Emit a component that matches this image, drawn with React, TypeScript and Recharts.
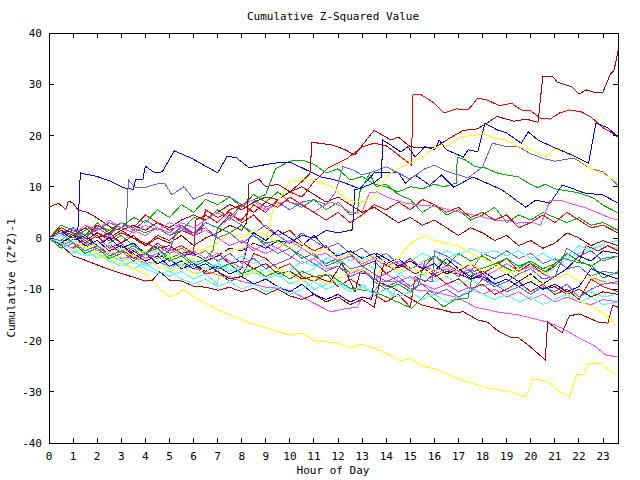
import { LineChart, Line, XAxis, YAxis, ReferenceArea } from "recharts";

// cumulative (z*z)-1 per series, as [hour, value] pairs
const red1 = [[0,0],[0.5,1.5],[1,0.5],[1.5,2.5],[2,1],[2.5,-0.5],[3,1],[3.5,0],[4,-1.5],[4.5,0.5],[5,-0.5],[5.5,1.5],[6,0.5],[6.5,3],[7,2],[7.5,4.5],[8,3.5],[8.5,6.5],[9,5],[9.5,7.5],[10,9],[10.5,8],[11,11],[11.6,13.7],[12.4,15.6],[13,17.8],[13.5,18.5],[14,18],[14.5,16.2],[15.05,14.2],[15.1,27.9],[15.4,28.1],[16,26.3],[16.4,24.4],[16.9,25.2],[17.4,25],[17.8,27.3],[18.2,26.9],[18.7,25.8],[19.2,26.3],[19.6,25],[20,24.8],[20.4,23.4],[20.8,23.2],[21.2,24.4],[21.6,25],[22.1,24.6],[22.5,23.6],[23,21.5],[23.3,20.7],[23.62,19.7]];
const red2 = [[0,0],[0.5,-1.5],[1,1],[1.5,0],[2,2.5],[2.5,1],[3,3],[3.5,2],[4,4.5],[4.5,3],[5,1.5],[5.5,2.5],[6,0.5],[6.3,1],[6.5,5.5],[7,4],[7.5,5],[8,3],[8.5,4.5],[9,2],[9.5,0.5],[10,1.5],[10.5,-1],[11,-2.5],[11.5,-1.5],[12,-4],[12.5,-3],[13,-5.5],[13.5,-4.5],[14,-7],[14.5,-5.5],[15,-4],[15.5,-6],[16,-3.5],[16.5,-5],[17,-6.5],[17.5,-5],[18,-7],[18.5,-5.5],[19,-4],[19.5,-6.5],[20,-5],[20.5,-7],[21,-5.5],[21.5,-3],[22,-4.5],[22.3,-1.5],[22.8,-2.5],[23.2,-1.5],[23.62,-2.5]];
const red3 = [[0,0],[0.5,2],[1,1],[1.5,-1],[2,0.5],[2.5,-2],[3,-1],[3.5,-3.5],[4,-2.5],[4.5,-5],[5,-4],[5.5,-6],[6,-5],[6.5,-7],[7,-6.5],[7.5,-8.5],[8,-7.5],[8.5,-3],[9,-4],[9.5,-6],[10,-5],[10.5,-7.5],[11,-8.5],[11.5,-7],[12,-9.5],[12.5,-8],[13,-9.5],[13.5,-11],[14,-12.5],[14.5,-11],[15,-13.5],[15.2,-7.5],[15.6,-8.5],[16,-7],[16.5,-9],[17,-8],[17.5,-10],[18,-9],[18.5,-11],[19,-10],[19.5,-8.5],[20,-10.5],[20.5,-9],[21,-11],[21.5,-10],[22,-12],[22.5,-8],[23,-9.5],[23.62,-10.5]];
const red4 = [[0,0],[0.5,-1],[1,-2],[1.5,0],[2,-1.5],[2.5,-3],[3,-2],[3.5,-4],[4,-3],[4.5,-1],[5,-2.5],[5.5,-1.5],[6,-3],[6.1,3.5],[6.5,4.5],[7,3],[7.5,5.5],[8,6.5],[8.5,5],[9,7],[9.5,6],[10,8],[10.5,6.5],[11,5],[11.5,3.5],[12,5],[12.5,3],[13,4.5],[13.5,6.5],[14,5.5],[14.5,7],[15,5.5],[15.5,7.5],[16,6.5],[16.5,5],[17,6],[17.5,4],[18,5],[18.5,3.5],[19,4.5],[19.5,2],[20,3],[20.5,4.5],[21,3],[21.5,5],[22,3.5],[22.5,2],[23,2.5],[23.62,1]];

const green1 = [[0,0],[0.5,1],[1,0],[1.5,1.5],[2,2.5],[2.5,1.5],[3,3],[3.5,2],[4,1],[4.5,2],[5,0.5],[5.5,1.5],[6,4],[6.5,3.5],[7,5.5],[7.5,4],[8,6.5],[8.5,7.5],[9,8.5],[9.4,13.5],[10,15],[10.5,15.2],[11,14.4],[11.5,12.7],[12,13.5],[12.5,11.3],[13,12],[13.5,10.5],[14,10],[14.5,9],[15,10],[15.5,9.6],[16,10.5],[16.4,10],[16.9,10.7],[16.95,15.8],[17.3,15.2],[17.7,13.9],[18.1,13.7],[18.6,12.7],[19,12.3],[19.5,11.9],[19.9,10.7],[20.3,9.8],[20.6,10.5],[21,9.6],[21.5,9.2],[22,8.8],[22.6,7.8],[23,6.4],[23.62,4.9]];
const green2 = [[0,0],[0.5,2.5],[1,1.5],[1.5,0.5],[2,3],[2.5,1],[3,2],[3.5,4],[4,3],[4.5,5.5],[5,4],[5.5,6.5],[6,5],[6.5,7.5],[7,6.5],[7.5,8],[8,6],[8.5,8.5],[9,7],[9.5,9],[10,7],[10.5,6],[11,7.5],[11.5,5.5],[12,7],[12.5,4.5],[12.8,5],[12.9,9],[13.3,12.5],[13.6,10],[14,10.5],[14.5,8.5],[15,7.5],[15.5,5],[16,6.5],[16.5,4.5],[17,5.5],[17.5,3.5],[18,4.5],[18.5,6],[19,3],[19.5,4.5],[20,3.5],[20.5,5],[21,4],[21.5,3],[22,4],[22.5,2.5],[23,3],[23.62,1.5]];
const green3 = [[0,0],[0.5,-1],[1,1],[1.5,-0.5],[2,-2],[2.5,-1],[3,0.5],[3.5,-1.5],[4,-3],[4.5,-2],[5,-4],[5.5,-3],[6,-5],[6.5,-4],[6.8,-2.5],[7,2],[7.5,1],[8,2.5],[8.5,0.5],[9,-1],[9.5,-0.5],[10,-2],[10.5,-4],[11,-3],[11.5,-5.5],[12,-4.5],[12.5,-7],[13,-6],[13.5,-8.5],[14,-10],[14.5,-9],[15,-10.5],[15.3,-9.5],[15.6,-4.5],[16,-3.5],[16.5,-5.5],[17,-3],[17.5,-4.5],[18,-3.5],[18.5,-5],[19,-4],[19.5,-5.5],[20,-4.5],[20.5,-6],[21,-5],[21.5,-3],[22,-4.5],[22.5,-5.5],[23,-4],[23.62,-3.5]];
const green4 = [[0,0],[0.5,-2],[1,-1],[1.5,-3],[2,-2],[2.5,-4],[3,-3],[3.5,-1.5],[4,-3],[4.5,-2],[5,-4.5],[5.5,-3.5],[6,-5.5],[6.5,-4.5],[7,-6],[7.5,-5],[8,-7],[8.5,-6],[9,-7.5],[9.5,-6.5],[10,-8],[10.5,-6.5],[11,-7.5],[11.66,-7.2],[12.5,-9.8],[13.5,-10.5],[14,-11.5],[15.05,-13.7],[15.7,-10.7],[16.4,-13.5],[16.8,-12.1],[17.4,-11.7],[17.6,-6.6],[18,-5.9],[18.6,-4.9],[19.3,-6.6],[19.9,-4.7],[20.6,-6.6],[21.3,-3.9],[21.9,-4.7],[22.5,-5.3],[23,-7.8],[23.62,-6.6]];

const blue1 = [[0,0],[0.5,1],[1.2,1.6],[1.3,12.7],[2,12],[2.6,11],[3,10],[3.2,9.7],[3.5,9.5],[3.6,11.5],[3.9,11.5],[4,14],[4.4,12.7],[4.7,12.9],[5.2,17],[5.9,15.6],[7,12.7],[7.4,16],[7.8,15.6],[8.3,13.7],[9.3,14.6],[10,14.8],[10.5,13.7],[11.3,11.9],[11.9,11.3],[12.3,10.7],[12.9,9.6],[13.5,12.7],[14,12.7],[14.5,12.7],[14.8,10.7],[15.2,12.3],[15.8,10.3],[16.3,12.3],[16.8,9.9],[17.6,11.9],[18.8,9.4],[19.8,6],[20.2,7.4],[20.8,6.8],[21.3,10.3],[21.6,9.9],[22.2,8.8],[23,8.4],[23.62,6.8]];
const blue2 = [[0,0],[0.5,-1],[1,0.5],[1.5,-1.5],[2,-2],[2.5,-1],[3,-3],[3.5,-2.5],[4,-4],[4.5,-3],[5,-4.5],[5.5,-3.5],[6,-3],[6.5,-4.5],[7,-3.5],[7.5,-2],[8,-2.5],[8.5,-1],[9,-2],[9.5,-0.5],[10,-1],[10.5,0.5],[11,0],[11.5,1.5],[12,1],[12.6,1.6],[12.7,9.4],[13,9.8],[13.5,10.8],[13.8,11.9],[13.85,19.1],[14.2,18.1],[14.6,16.8],[14.9,17.8],[15.2,15.8],[15.6,17.8],[16,17.2],[16.2,19.1],[16.5,17.2],[17.2,15.8],[17.4,17.2],[17.8,16.8],[18.1,22.4],[18.6,21.1],[19,20.5],[19.6,18.5],[19.9,20.7],[20.3,19.1],[21,17.6],[21.7,16.2],[22.4,14.6],[22.7,22.4],[23.2,21.5],[23.62,19.7]];
const blue3 = [[0,0],[0.5,1.5],[1,-0.5],[1.5,0.5],[2,-1.5],[2.5,0],[3,-2],[3.5,-1],[4,-3],[4.5,-5],[5,-4],[5.5,-6],[6,-5],[6.5,-6.5],[7,-5.5],[7.5,-7],[8,-6],[8.3,0],[8.5,1],[9,-0.5],[9.5,1.5],[10,0],[10.5,-1.5],[11,0.5],[11.5,-2],[12,-3.5],[12.5,-2.5],[13,-4],[13.5,-3],[14,-5],[14.5,-4],[15,-6],[15.5,-5],[16,-6.5],[16.5,-4],[17,-6],[17.5,-7.5],[18,-6.5],[18.5,-8],[19,-7],[19.5,-8.5],[20,-7],[20.5,-9],[21,-7.5],[21.5,-6],[22,-3.5],[22.5,-4.5],[23,-2.5],[23.62,-3]];
const blue4 = [[0,0],[0.5,-1],[1,0.5],[1.5,-1.5],[2,-0.5],[2.5,-2.5],[3,-1.5],[3.5,-3],[4,-4.5],[4.5,-3.5],[5,-5.5],[5.5,-4.5],[6,-6],[6.5,-5],[7,-6.5],[7.5,-8],[8,-7.5],[8.5,-9],[9,-8],[9.5,-9.5],[10,-10.5],[10.5,-9],[11,-11],[11.5,-12],[12,-11],[12.5,-12.5],[13,-11.5],[13.4,-12],[13.6,-3],[14,-4],[14.5,-5.5],[15,-4.5],[15.5,-6],[16,-5],[16.5,-7],[17,-6],[17.5,-8],[18,-7.5],[18.5,-9],[19,-8],[19.5,-9.5],[20,-8.5],[20.5,-10],[21,-9],[21.5,-10.5],[22,-9.5],[22.5,-6],[23,-7],[23.62,-8]];

const slate1 = [[0,0],[0.5,1],[1,2],[1.5,0.5],[2,1.5],[2.5,3],[3,2],[3.2,2.5],[3.3,11.3],[3.6,9.8],[4,9.8],[4.4,10.5],[4.8,10.7],[5.1,8.4],[5.6,10],[6,7.6],[6.6,8.8],[7,8.4],[7.5,8],[8,6.5],[8.5,7.5],[9,6],[9.5,7],[10,5.5],[10.5,7],[11,7.5],[11.5,6.5],[11.9,9],[12.2,13.9],[12.6,13.3],[13,12.3],[13.5,13],[14,13.9],[14.5,12.7],[15,11.5],[15.6,13.5],[16,14.2],[16.5,13],[17,12.3],[17.4,11.7],[18,13.9],[18.4,18.5],[19,17.8],[19.5,17.8],[20,16.4],[20.6,15.4],[21,15],[21.8,15.6],[22.5,13.5],[23,12.9],[23.62,10.3]];
const slate2 = [[0,0],[0.5,-0.5],[1,1.5],[1.5,0],[2,2],[2.5,0.5],[3,3],[3.5,1.5],[4,3.5],[4.5,2],[5,0.5],[5.5,2],[6,1],[6.5,3],[7,2],[7.5,4],[8,2.5],[8.5,1],[9,2.5],[9.5,0.5],[10,-1],[10.5,1],[11,-0.5],[11.5,-2],[12,-1],[12.5,-3],[13,-2],[13.5,-4],[14,-3],[14.5,-5],[15,-6],[15.5,-5],[16,-7],[16.5,-6],[17,-7.5],[17.5,-6.5],[18,-3],[18.5,-4],[19,-2.5],[19.5,-4],[20,-3],[20.5,-5],[21,-4],[21.5,-6],[22,-5.5],[22.5,-7.5],[23,-6.5],[23.62,-7]];
const slate3 = [[0,0],[0.5,-1.5],[1,-0.5],[1.5,-2],[2,-1],[2.5,-3],[3,-2],[3.5,-4],[4,-3],[4.5,-1.5],[5,-3],[5.5,-2],[6,-3.5],[6.5,-2.5],[7,-4.5],[7.5,-3],[8,-5],[8.5,-4],[9,-6],[9.5,-5],[10,-4],[10.5,-2],[11,-3.5],[11.5,-5],[12,-4],[12.5,-6],[13,-5.5],[13.5,-7],[14,-8.5],[14.5,-7.5],[15,-9.5],[15.3,-8],[15.9,-8.5],[16,-2.5],[16.5,-3.5],[17,-5],[17.5,-6.5],[18,-8],[18.5,-9.5],[19,-8.5],[19.5,-7],[20,-6],[20.5,-8],[21,-7.5],[21.5,-2],[22,-3.5],[22.5,-2.5],[23,-4.5],[23.62,-3.5]];
const slate4 = [[0,0],[0.5,1],[1,-1],[1.5,-2.5],[2,-1.5],[2.5,-3.5],[3,-2.5],[3.5,-4.5],[4,-3],[4.5,-4],[5,-2.5],[5.3,1.5],[5.5,2.5],[6,1],[6.5,2],[7,0],[7.5,1],[8,-1],[8.5,0.5],[9,-1.5],[9.5,-3],[10,-2],[10.5,-3.5],[11,-5],[11.5,-6.5],[12,-5.5],[12.5,-7.5],[13,-6.5],[13.5,-8],[14,-9.5],[14.5,-8.5],[15,-10],[15.5,-9],[16,-11],[16.5,-10],[17,-11.5],[17.5,-10.5],[18,-8],[18.5,-9],[19,-10.5],[19.5,-9.5],[20,-11],[20.5,-9.5],[21,-10.5],[21.5,-9],[22,-11.5],[22.5,-10],[23,-9],[23.62,-8.5]];

const magenta1 = [[0,0],[0.5,-1],[1,-2],[1.5,-1.5],[2,-3],[2.5,-2.5],[3,-4],[3.5,-3.5],[4,-5],[4.5,-4.5],[5,-5.5],[5.5,-5],[6,-6],[6.5,-6.5],[7,-7.2],[7.5,-7.5],[8,-8.5],[8.5,-9],[9,-9.6],[9.5,-9.8],[10,-10.2],[10.7,-12],[11.7,-14.4],[12.3,-13.8],[12.8,-13.5],[13,-11.5],[13.3,-11.8],[13.8,-8.4],[14.6,-8.4],[15,-10],[16,-10.5],[17,-11.7],[17.7,-13.5],[18.7,-14.5],[19.5,-15],[20.7,-16.4],[21.3,-17.6],[22,-19.5],[22.6,-20.9],[23.1,-22.8],[23.62,-23.2]];
const magenta2 = [[0,0],[0.5,-1],[1,1],[1.5,0],[2,-1.5],[2.5,0.5],[3,-1],[3.5,1.5],[4,0.5],[4.5,2],[5,1],[5.5,3],[6,2],[6.5,3.5],[7,5],[7.5,3.5],[8,6],[8.4,7.4],[9,5.5],[9.3,6.2],[9.8,7.2],[10.4,6.6],[11,5],[11.3,6],[11.7,7],[12,6.5],[12.5,5],[13,5.1],[13.3,8.8],[13.6,9],[14.1,7.8],[14.8,6.8],[15.4,6.4],[16,6.2],[16.6,5.5],[17.6,4.5],[18.2,3.9],[18.5,3.5],[19,3.5],[19.4,2.9],[20,3.1],[20.4,2.5],[20.6,4.9],[20.8,7.4],[21.2,7.4],[21.6,6.8],[22.2,6],[22.8,4.9],[23.3,3.9],[23.62,3.5]];
const magenta3 = [[0,0],[0.5,1.5],[1,0.5],[1.5,2.5],[2,1.5],[2.5,3.5],[3,2],[3.5,1],[4,2.5],[4.5,1.5],[5,3],[5.5,2],[6,0.5],[6.5,1.5],[7,0],[7.5,-1.5],[8,-0.5],[8.5,-2],[9,-3],[9.5,-2],[10,-3.5],[10.5,-5],[11,-4],[11.5,-6],[12,-5.5],[12.5,-7],[13,-6],[13.5,-8],[14,-7],[14.5,-8.5],[15,-7.5],[15.5,-9],[16,-10],[16.5,-9],[17,-10.5],[17.5,-9.5],[18,-11],[18.5,-10],[19,-11.5],[19.5,-10.5],[20,-12],[20.5,-11],[21,-12.5],[21.5,-11.5],[22,-12.5],[22.5,-13],[23,-12],[23.62,-12.5]];
const magenta4 = [[0,0],[0.5,-1],[1,-2],[1.5,-1],[2,-2.5],[2.5,-1.5],[3,-3],[3.5,-2],[4,-4],[4.5,-3],[5,-2],[5.5,-3.5],[6,-2.5],[6.5,-4],[7,-3],[7.5,-4.5],[8,-6],[8.2,-1.5],[8.5,-2.5],[9,-1],[9.5,-2],[10,-0.5],[10.5,-2],[11,-3.5],[11.5,-3],[12,-4.5],[12.5,-3.5],[13,-5],[13.5,-4],[14,-5.5],[14.5,-4.5],[15,-6],[15.5,-5],[16,-6.5],[16.5,-5.5],[17,-7],[17.5,-6],[18,-7.5],[18.5,-6.5],[19,-5],[19.5,-6.5],[20,-5.5],[20.5,-7],[21,-8],[21.5,-7],[22,-8.5],[22.5,-7.5],[23,-8.5],[23.62,-9]];

const cyan1 = [[0,0],[0.5,-1.5],[1,-3],[1.5,-2],[2,-4],[2.5,-3],[3,-4.5],[3.5,-6],[4,-5],[4.5,-6.5],[5,-7.5],[5.5,-6.5],[6,-8],[6.5,-7],[7,-9],[7.1,-4],[7.5,-5],[8,-3.5],[8.5,-5],[9,-4],[9.5,-6],[10,-5],[10.5,-7],[11,-6],[11.5,-4],[12,-5],[12.5,-3.5],[13,-4.5],[13.5,-6],[14,-5],[14.5,-7],[15,-6],[15.5,-4.5],[16,-5.5],[16.5,-4],[17,-3],[17.5,-4.5],[18,-3.5],[18.5,-5],[19,-4],[19.5,-6],[20,-5],[20.5,-7],[21,-6],[21.5,-4],[22,-3],[22.5,-2],[23,-1.5],[23.62,-2]];
const cyan2 = [[0,0],[0.5,-1],[1,-0.5],[1.5,-2.5],[2,-1.5],[2.5,-3.5],[3,-4.5],[3.5,-3.5],[4,-5.5],[4.5,-4.5],[5,-6],[5.5,-5],[6,-7],[6.5,-6.5],[7,-5],[7.5,-6],[8,-7.5],[8.5,-6.5],[9,-8],[9.5,-7],[10,-9],[10.5,-8],[11,-10],[11.5,-9],[12,-8.5],[12.5,-10],[13,-9],[13.5,-11],[14,-10],[14.3,-11.5],[14.5,-7],[15,-8],[15.5,-7],[16,-8.5],[16.5,-7.5],[17,-9],[17.5,-8],[18,-9.5],[18.5,-8.5],[19,-10],[19.5,-9],[20,-10.5],[20.5,-9.5],[21,-11],[21.5,-10],[22,-11.5],[22.5,-10.5],[23,-11.5],[23.62,-11]];
const cyan3 = [[0,0],[0.5,0.5],[1,-1],[1.5,0],[2,-2],[2.5,-1],[3,-2.5],[3.5,-1.5],[4,-3.5],[4.5,-2.5],[5,-4],[5.5,-5.5],[6,-4.5],[6.5,-6],[7,-5],[7.5,-6.5],[8,-5.5],[8.5,-7],[9,-6],[9.5,-7.5],[10,-6.5],[10.5,-4.5],[11,-5.5],[11.5,-4],[12,-3],[12.5,-4.5],[13,-3.5],[13.5,-5],[14,-4],[14.5,-5.5],[15,-4.5],[15.5,-3],[16,-4],[16.5,-2.5],[17,-3.5],[17.5,-2],[18,-3],[18.5,-2.5],[19,-3.5],[19.5,-2.5],[20,-4],[20.5,-3],[21,-4.5],[21.5,-3.5],[22,-1.5],[22.5,-2.5],[23,-1],[23.62,-0.5]];
const cyan4 = [[0,0],[0.5,-1],[1,-2.5],[1.5,-3.5],[2,-3],[2.5,-4.5],[3,-5.5],[3.5,-4.5],[4,-6],[4.5,-7],[5,-6.5],[5.5,-8],[6,-9],[6.5,-8],[7,-9.5],[7.5,-8.5],[8,-10],[8.5,-9],[9,-10.5],[9.5,-9.5],[10,-11],[10.5,-10],[11,-8.5],[11.5,-10],[12,-9],[12.5,-10.5],[13,-9.5],[13.5,-11],[14,-10],[14.5,-11.5],[15,-10.5],[15.5,-12],[16,-11],[16.5,-12.5],[17,-11.5],[17.5,-10],[18,-11],[18.5,-12],[19,-11],[19.5,-12.5],[20,-11.5],[20.5,-13],[21,-12],[21.5,-11],[22,-12.5],[22.5,-11.5],[23,-13],[23.62,-12.5]];

const yellow1 = [[0,0],[1,-2],[2,-3.5],[3,-5],[4,-7],[4.5,-9.5],[5,-11.5],[5.3,-11],[5.6,-10],[6,-11.5],[7,-14],[8,-16],[9,-17.5],[10,-19],[10.5,-18.5],[11,-20],[12,-20.5],[12.5,-21.5],[13,-20.7],[13.5,-21.5],[14,-22.5],[14.6,-24],[15,-23.5],[15.5,-25],[16,-25.5],[16.5,-26.5],[17,-27.5],[18,-29],[18.5,-29.5],[19,-29.8],[19.8,-31],[20.1,-27.5],[20.7,-28],[21.2,-30],[21.6,-31],[21.9,-26.7],[22.2,-26.7],[22.4,-24.4],[22.9,-24.4],[23.3,-26],[23.62,-26.7]];
const yellow2 = [[0,0],[1,-1],[2,-2.5],[3,-3],[4,-4],[5,-3],[6,-2],[7,-3],[8,-2],[9,-0.5],[9.3,5.5],[10,11.1],[10.7,11.5],[11.1,11.1],[11.8,9.9],[12.4,7.4],[13,7],[13.5,8],[14.1,12.5],[14.8,14.2],[15.5,15.8],[16,17.6],[16.5,17.8],[17,19.5],[17.5,20],[18,20.3],[18.5,19.5],[19,19.1],[19.5,17.8],[20,17.2],[20.6,15.8],[21,17.4],[21.5,16.4],[22,15.2],[22.5,13.5],[23,12.5],[23.62,10.9]];
const yellow3 = [[0,0],[0.5,-1],[1,-2],[1.5,-1.5],[2,-3],[2.5,-4],[3,-3.5],[3.5,-5],[4,-4],[4.5,-5.5],[5,-6.5],[5.5,-5.5],[6,-7],[6.5,-6],[7,-7.5],[8,-8],[8.5,-6.5],[9,-7.5],[9.5,-6],[10,-7],[10.5,-8.5],[11,-7.5],[11.5,-9],[12,-8],[12.5,-6.5],[13,-6],[13.5,-7.5],[14,-5.5],[14.5,-4],[15,-1],[15.6,0.5],[16,-0.5],[16.5,-1],[17,-1.5],[17.5,-3],[18,-4],[18.7,-5.3],[19.3,-7.2],[20,-8.2],[20.7,-9.2],[21.4,-10.5],[22,-12.3],[22.6,-13.5],[23.1,-15],[23.62,-17.4]];
const yellow4 = [[0,0],[0.5,1],[1,-0.5],[1.5,-2],[2,-1],[2.5,-3],[3,-2],[3.5,-3.5],[4,-2.5],[4.5,-4.5],[5,-3.5],[5.5,-5],[6,-4],[6.5,-2],[7,-1],[7.5,1],[8,0],[8.5,1.5],[9,0.5],[9.5,-1],[10,-2],[10.5,-1],[11,-3],[11.5,-2],[12,-4],[12.5,-3],[13,-4.5],[13.5,-3.5],[14,-5],[14.5,-6.5],[15,-5.5],[15.5,-7],[16,-6],[16.5,-7.5],[17,-6],[17.5,-5],[18,-6.5],[18.5,-5.5],[19,-7],[19.5,-6],[20,-7.5],[20.5,-6.5],[21,-8],[21.5,-7],[22,-8.5],[22.5,-7.5],[23,-9],[23.62,-8]];

const darkred1 = [[0,0],[0.5,-1],[1,0.5],[1.5,-0.5],[2,1],[2.5,0],[3,1.5],[3.5,2.5],[4,1.5],[4.5,3],[5,2],[5.5,3.5],[6,4.5],[6.5,3.5],[7,5],[7.5,6.5],[8,5.5],[8.5,7],[9,8],[9.5,7.5],[10,9],[10.5,11],[10.85,12.7],[10.9,18.7],[11.8,18.1],[12.3,17.2],[12.7,16.2],[13,18.1],[13.5,21],[14.2,19.1],[14.5,19.7],[15,17.8],[15.5,17.6],[16,17.6],[16.5,19.1],[17.2,21],[17.8,21.3],[18.6,23.7],[19.3,22.8],[19.8,23.2],[20.3,22.6],[20.5,31.6],[20.9,31.6],[21.1,30.4],[21.7,29.5],[22,28.1],[22.3,28.9],[22.7,28.3],[23,28.5],[23.3,32],[23.45,32.6],[23.62,36.5]];
const darkred2 = [[0,6],[0.4,6.8],[0.7,5.5],[0.8,7.2],[1,6.8],[1.2,5.5],[1.6,5],[2,3.9],[2.6,2],[3,1.5],[3.5,0],[4,-1],[4.5,-2],[5,-1.5],[5.5,-3],[6,-2.5],[6.5,-4],[7,-3],[7.5,-5],[8,-4.5],[8.5,-6],[9,-5],[9.5,-7],[10,-6.5],[10.5,-8],[11,-7.5],[11.66,-8.6],[12.16,-4.9],[12.7,-10.5],[12.9,-6.8],[13.4,-7.2],[13.7,-8.6],[14.3,-9.8],[15.1,-12.1],[15.5,-13.1],[16.3,-14],[16.8,-14.6],[17.2,-14.4],[17.8,-16],[18.2,-16.4],[18.6,-18],[19.2,-19.5],[19.5,-19.5],[19.9,-20.9],[20.6,-23.8],[20.7,-16.4],[21.3,-18.5],[21.6,-15.2],[22,-14.8],[22.8,-16.4],[23.2,-16.6],[23.4,-13.1],[23.62,-13.5]];
const darkred3 = [[0,0],[0.4,-1],[1,-3.5],[1.6,-4.5],[2.3,-5.8],[3,-6.9],[3.6,-7.8],[4,-8.4],[4.3,-8.2],[4.6,-6.6],[5,-8.2],[5.5,-8.4],[6,-9.4],[6.5,-9.6],[7,-10.2],[7.5,-9.6],[8,-10.5],[8.5,-9.8],[9,-11],[9.5,-10],[10,-11.3],[10.5,-12],[11,-11],[11.5,-12.5],[12,-11.5],[12.5,-13],[13,-12],[13.5,-13.5],[13.9,-5],[14.3,-6],[14.7,-5.5],[15.2,-7],[15.6,-6],[16,-7.5],[16.5,-6.5],[17,-7],[17.5,-8],[18,-7],[18.5,-9],[19,-8],[19.5,-9.5],[20,-8.5],[20.5,-10],[21,-9.5],[21.5,-11],[22,-10],[22.5,-11.5],[23,-10.5],[23.62,-11]];
const darkred4 = [[0,0],[0.5,1.5],[1,0.5],[1.5,2],[2,0],[2.5,1],[3,-1],[3.5,0.5],[4,-1.5],[4.5,0],[5,-1],[5.5,0.5],[6,-1.5],[6.5,0],[7,1],[7.5,2.5],[8,1.5],[8.2,3],[8.3,10.5],[8.7,11.5],[9,10],[9.5,10.5],[10,9],[10.5,10],[11,8.5],[11.5,7],[12,8],[12.5,6.5],[13,5],[13.5,6],[14,4.5],[14.5,3],[15,4],[15.5,2.5],[16,3.5],[16.5,2],[17,0.5],[17.5,2],[18,1],[18.5,-0.5],[19,0.5],[19.5,-1.5],[20,-0.5],[20.5,-2],[21,-1],[21.5,1],[22,0],[22.5,-1.5],[23,-0.5],[23.62,-1.5]];

const hourTicks = [0,1,2,3,4,5,6,7,8,9,10,11,12,13,14,15,16,17,18,19,20,21,22,23];
const valueTicks = [-40,-30,-20,-10,0,10,20,30,40];

const RED = "#ff0000";
const GREEN = "#00b000";
const BLUE = "#0000ff";
const MAGENTA = "#ff4cff";
const CYAN = "#4cffff";
const YELLOW = "#ffff00";
const DARKRED = "#b00000";
const SLATE = "#6060ff";

const series = [
  { key: "r1", pts: red1, color: RED },
  { key: "g1", pts: green1, color: GREEN },
  { key: "b1", pts: blue1, color: BLUE },
  { key: "m1", pts: magenta1, color: MAGENTA },
  { key: "c1", pts: cyan1, color: CYAN },
  { key: "y1", pts: yellow1, color: YELLOW },
  { key: "d1", pts: darkred1, color: DARKRED },
  { key: "s1", pts: slate1, color: SLATE },
  { key: "r2", pts: red2, color: RED },
  { key: "g2", pts: green2, color: GREEN },
  { key: "b2", pts: blue2, color: BLUE },
  { key: "m2", pts: magenta2, color: MAGENTA },
  { key: "c2", pts: cyan2, color: CYAN },
  { key: "y2", pts: yellow2, color: YELLOW },
  { key: "d2", pts: darkred2, color: DARKRED },
  { key: "s2", pts: slate2, color: SLATE },
  { key: "r3", pts: red3, color: RED },
  { key: "g3", pts: green3, color: GREEN },
  { key: "b3", pts: blue3, color: BLUE },
  { key: "m3", pts: magenta3, color: MAGENTA },
  { key: "c3", pts: cyan3, color: CYAN },
  { key: "y3", pts: yellow3, color: YELLOW },
  { key: "d3", pts: darkred3, color: DARKRED },
  { key: "s3", pts: slate3, color: SLATE },
  { key: "r4", pts: red4, color: RED },
  { key: "g4", pts: green4, color: GREEN },
  { key: "b4", pts: blue4, color: BLUE },
  { key: "m4", pts: magenta4, color: MAGENTA },
  { key: "c4", pts: cyan4, color: CYAN },
  { key: "y4", pts: yellow4, color: YELLOW },
  { key: "d4", pts: darkred4, color: DARKRED },
  { key: "s4", pts: slate4, color: SLATE },
];

const W = 640;
const H = 480;
const PLOT_LEFT = 49;
const PLOT_TOP = 33;
const PLOT_RIGHT = 618;
const PLOT_BOTTOM = 443;
const Y_AXIS_W = 40;
const X_AXIS_H = 30;
const TICK = 5;
const FONT = "'DejaVu Sans Mono', 'Liberation Mono', monospace";
const X_MAX = 23.62;

// draws the inward tick on bottom and top borders plus the label
const renderXTick = (props: any) => {
  const { x, payload } = props;
  return (
    <g key={`xt-${payload.value}`}>
      <line x1={x} x2={x} y1={PLOT_BOTTOM} y2={PLOT_BOTTOM - TICK} stroke="#000" shapeRendering="crispEdges" />
      <line x1={x} x2={x} y1={PLOT_TOP} y2={PLOT_TOP + TICK} stroke="#000" shapeRendering="crispEdges" />
      <text x={x} y={PLOT_BOTTOM + 17} textAnchor="middle" fontFamily={FONT} fontSize={11} fill="#000">
        {payload.value}
      </text>
    </g>
  );
};

// same for left and right borders
const renderYTick = (props: any) => {
  const { y, payload } = props;
  return (
    <g key={`yt-${payload.value}`}>
      <line x1={PLOT_LEFT} x2={PLOT_LEFT + TICK} y1={y} y2={y} stroke="#000" shapeRendering="crispEdges" />
      <line x1={PLOT_RIGHT} x2={PLOT_RIGHT - TICK} y1={y} y2={y} stroke="#000" shapeRendering="crispEdges" />
      <text x={PLOT_LEFT - 7} y={y + 4} textAnchor="end" fontFamily={FONT} fontSize={11} fill="#000">
        {payload.value}
      </text>
    </g>
  );
};

export default function App() {
  return (
    <div style={{ position: "absolute", left: 0, top: 0, width: W, height: H, background: "#fff" }}>
      <LineChart
        width={W}
        height={H}
        margin={{
          top: PLOT_TOP,
          right: W - PLOT_RIGHT,
          bottom: H - PLOT_BOTTOM - X_AXIS_H,
          left: PLOT_LEFT - Y_AXIS_W,
        }}
      >
        <XAxis
          type="number"
          dataKey="h"
          domain={[0, X_MAX]}
          ticks={hourTicks}
          height={X_AXIS_H}
          allowDataOverflow
          axisLine={false}
          tickLine={false}
          tick={renderXTick}
          interval={0}
        />
        <YAxis
          type="number"
          domain={[-40, 40]}
          ticks={valueTicks}
          width={Y_AXIS_W}
          allowDataOverflow
          axisLine={false}
          tickLine={false}
          tick={renderYTick}
          interval={0}
        />
        {series.map((s) => (
          <Line
            key={s.key}
            data={s.pts.map(([h, v]) => ({ h, v }))}
            dataKey="v"
            type="linear"
            stroke={s.color}
            strokeWidth={1}
            dot={false}
            activeDot={false}
            isAnimationActive={false}
            shapeRendering="crispEdges"
          />
        ))}
        <ReferenceArea
          x1={0}
          x2={X_MAX}
          y1={-40}
          y2={40}
          fill="none"
          stroke="#000"
          strokeWidth={1}
          ifOverflow="visible"
          shapeRendering="crispEdges"
        />
        <text x={333} y={20} textAnchor="middle" fontFamily={FONT} fontSize={11} fill="#000">
          Cumulative Z-Squared Value
        </text>
        <text x={333} y={474} textAnchor="middle" fontFamily={FONT} fontSize={11} fill="#000">
          Hour of Day
        </text>
        <text
          x={15}
          y={278}
          textAnchor="middle"
          fontFamily={FONT}
          fontSize={11}
          fill="#000"
          transform="rotate(-90 15 278)"
        >
          Cumulative (Z*Z)-1
        </text>
      </LineChart>
    </div>
  );
}
